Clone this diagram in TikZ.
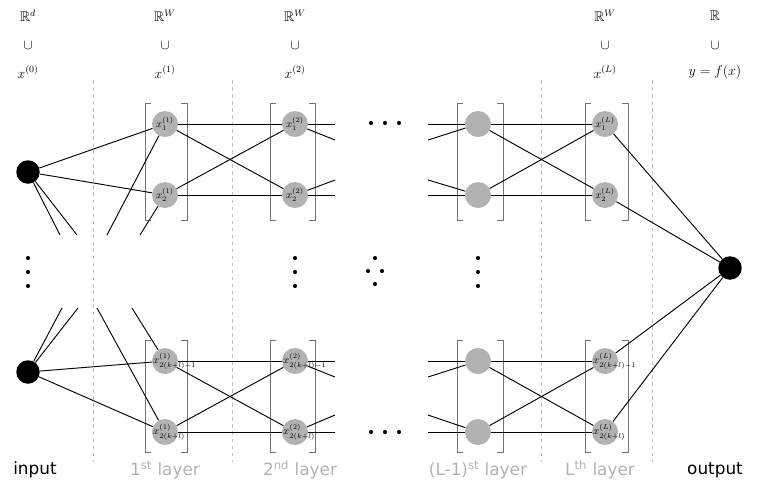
\documentclass[tikz,border=0pt]{standalone}
\usepackage{amssymb}
\usepackage{fontspec}
\setsansfont{DejaVu Sans}
\begin{document}
\begin{tikzpicture}[x=0.03cm,y=-0.03cm,
  io/.style={circle,fill=black,minimum size=23.5*0.03cm,inner sep=0},
  hid/.style={circle,fill=black!30,minimum size=26*0.03cm,inner sep=0},
  lab/.style={inner sep=0,font=\small},
  edge/.style={line width=0.8pt},
  sep/.style={dashed,gray!50,line width=0.6pt},
  brk/.style={gray!90!black,line width=0.6pt},
  dot/.style={circle,fill=black,inner sep=0,minimum size=3.5pt},
  top/.style={font=\large},
  bot/.style={font=\sffamily\Large},
  botg/.style={font=\sffamily\Large,text=gray!60}]
\useasboundingbox (0,0) rectangle (760,493);
% dashed separators
\foreach \x in {93,232,541,652} \draw[sep] (\x,80) -- (\x,462);
% brackets
\foreach \xl/\xr in {145/187,270/315,457/503,585/628}{
  \foreach \ya/\yb in {103/220,340/452}{
    \draw[brk] (\xl+6,\ya) -- (\xl,\ya) -- (\xl,\yb) -- (\xl+6,\yb);
    \draw[brk] (\xr-6,\ya) -- (\xr,\ya) -- (\xr,\yb) -- (\xr-6,\yb);
  }}
% nodes
\node[io] (i1) at (28,172) {};
\node[io] (i2) at (28,372) {};
\node[io] (o) at (730,268) {};
\foreach \n/\x in {a/165,b/295,c/478,d/605}{
  \node[hid] (\n1) at (\x,124) {};
  \node[hid] (\n2) at (\x,195) {};
  \node[hid] (\n3) at (\x,361) {};
  \node[hid] (\n4) at (\x,432) {};
}
% stub coordinates
\coordinate (s1) at (60,235); \coordinate (s2) at (77,235);
\coordinate (s3) at (107,235); \coordinate (s4) at (140,235);
\coordinate (s5) at (62,308); \coordinate (s6) at (78,308);
\coordinate (s7) at (97,308); \coordinate (s8) at (132,308);
\foreach \y/\k in {124/1,140/2,180/3,195/4,361/5,377/6,415/7,432/8}{
  \coordinate (r\k) at (335,\y);
  \coordinate (l\k) at (428,\y);}
% edges
\begin{scope}[edge]
\draw (i1) -- (a1); \draw (i1) -- (a2); \draw (i1) -- (s1); \draw (i1) -- (s2);
\draw (a1) -- (s3); \draw (a2) -- (s4);
\draw (i2) -- (a3); \draw (i2) -- (a4); \draw (i2) -- (s5); \draw (i2) -- (s6);
\draw (a4) -- (s7); \draw (a3) -- (s8);
\foreach \p/\q in {a/b,c/d}{
  \draw (\p1) -- (\q1); \draw (\p1) -- (\q2); \draw (\p2) -- (\q1); \draw (\p2) -- (\q2);
  \draw (\p3) -- (\q3); \draw (\p3) -- (\q4); \draw (\p4) -- (\q3); \draw (\p4) -- (\q4);}
\draw (b1) -- (r1); \draw (b1) -- (r2); \draw (b2) -- (r3); \draw (b2) -- (r4);
\draw (b3) -- (r5); \draw (b3) -- (r6); \draw (b4) -- (r7); \draw (b4) -- (r8);
\draw (l1) -- (c1); \draw (l2) -- (c1); \draw (l3) -- (c2); \draw (l4) -- (c2);
\draw (l5) -- (c3); \draw (l6) -- (c3); \draw (l7) -- (c4); \draw (l8) -- (c4);
\foreach \k in {1,2,3,4} \draw (d\k) -- (o);
\end{scope}
% node labels
\foreach \n/\s in {a/1,b/2,d/L}{
  \node[lab] at (\n1) {$x_1^{(\s)}$};
  \node[lab] at (\n2) {$x_2^{(\s)}$};
  \node[lab,anchor=west] at ([xshift=-0.36cm]\n3) {$x_{2(k+l)-1}^{(\s)}$};
  \node[lab,anchor=west] at ([xshift=-0.36cm]\n4) {$x_{2(k+l)}^{(\s)}$};
}
% dots
\foreach \x in {28,295,478} \foreach \y in {258,272,286} \node[dot] at (\x,\y) {};
\node[dot] at (375,258) {}; \node[dot] at (375,284) {};
\node[dot] at (368,271) {}; \node[dot] at (382,271) {};
\foreach \y in {123,432} \foreach \x in {371,385,399} \node[dot] at (\x,\y) {};
% top labels
\foreach \x/\a/\b in {28/d/(0),165/W/(1),295/W/(2),605/W/(L)}{
  \node[top] at (\x,16) {$\mathbb{R}^{\a}$};
  \node[top] at (\x,46) {$\cup$};
  \node[top] at (\x,72) {$x^{\b}$};}
\node[top] at (715,16) {$\mathbb{R}$};
\node[top] at (715,46) {$\cup$};
\node[top] at (715,72) {$y=f(x)$};
% bottom labels
\node[bot] at (35,470) {input};
\node[botg] at (165,470) {1\textsuperscript{st} layer};
\node[botg] at (300,470) {2\textsuperscript{nd} layer};
\node[botg] at (478,470) {(L-1)\textsuperscript{st} layer};
\node[botg] at (600,470) {L\textsuperscript{th} layer};
\node[bot] at (715,470) {output};
\end{tikzpicture}
\end{document}
